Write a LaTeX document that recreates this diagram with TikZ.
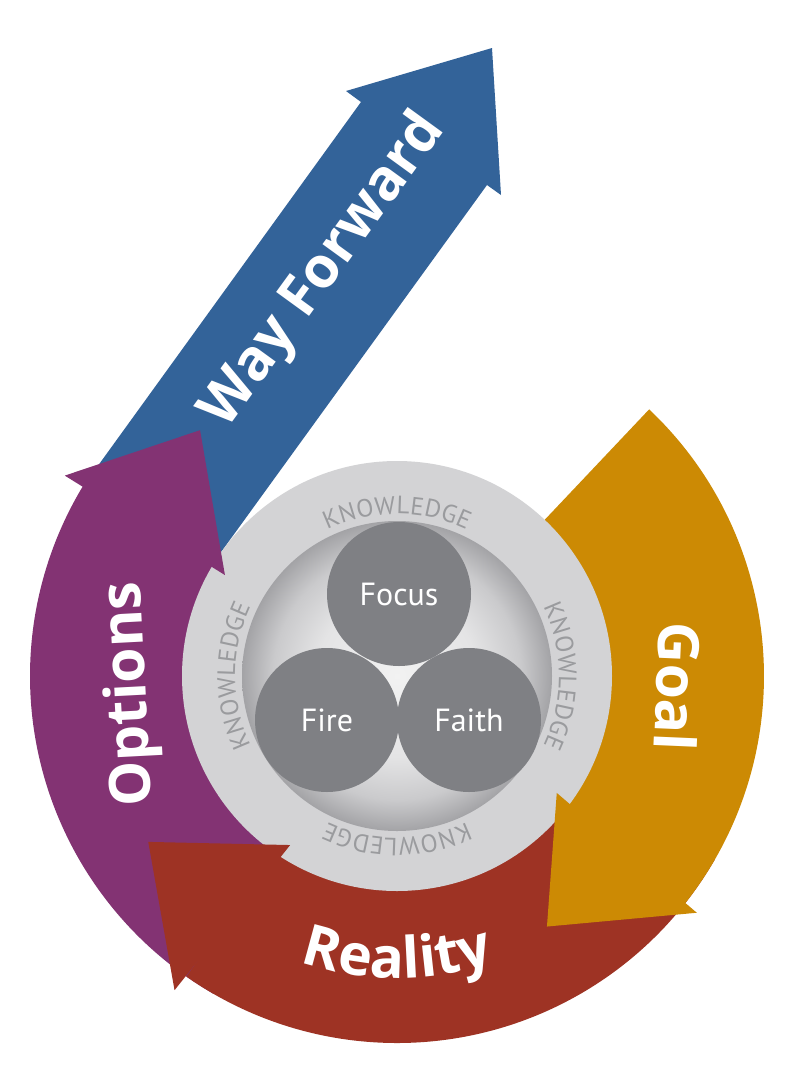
\documentclass[tikz,border=0pt]{standalone}
\usepackage{fontspec}
\setmainfont{PT Sans}
\newfontfamily\labfam{Open Sans}
\usetikzlibrary{decorations.text}
\definecolor{wfblue}{HTML}{336399}
\definecolor{optpurple}{HTML}{833373}
\definecolor{realred}{HTML}{9E3324}
\definecolor{goalorange}{HTML}{CC8A04}
\definecolor{ringgray}{HTML}{D3D3D5}
\definecolor{ballgray}{HTML}{7F8084}
\definecolor{knowgray}{HTML}{9A9B9E}
\definecolor{diskA}{HTML}{F2F2F2}
\definecolor{diskB}{HTML}{E4E4E5}
\definecolor{diskC}{HTML}{CACACC}
\definecolor{diskD}{HTML}{A3A3A6}
\pgfdeclareradialshading{diskshade}{\pgfpoint{0bp}{0bp}}{color(0bp)=(diskA); color(13bp)=(diskB); color(20bp)=(diskC); color(25bp)=(diskD); color(50bp)=(diskD)}
\newcommand\knowfont{\fontsize{25}{25}\selectfont}
\newcommand\labfont{\labfam\bfseries\fontsize{57}{57}\selectfont}
\tikzset{
  ball/.style={circle, fill=ballgray, minimum size=144pt, inner sep=0pt, text=white, font=\fontsize{32}{32}\selectfont},
  biglabel/.style={text=white, font=\labfont, inner sep=0pt},
  knowtext/.style={decorate, decoration={text along path, text={|\knowfont|KNOWLEDGE}, text align=fit to path, text color=knowgray}}
}
\begin{document}
\begin{tikzpicture}[x=1pt,y=1pt]
\useasboundingbox (0,0) rectangle (800,-1085);
\fill[white] (0,0) rectangle (800,-1085);
% Way Forward arrow
\fill[wfblue] (492,-48) -- (501,-195) -- (487,-185) -- (161,-635) -- (92,-474) -- (361,-102) -- (346,-91) -- cycle;
\node[biglabel, rotate=54] (wf) at (324,-271) {Way Forward};
\begin{scope}[shift={(397,-676)}]
  % bands
  \fill[optpurple] (240:367) arc[start angle=240, end angle=148, radius=367] -- (148:200) arc[start angle=148, end angle=240, radius=200] -- cycle;
  \fill[realred] (330:367) arc[start angle=330, end angle=235, radius=367] -- (235:200) arc[start angle=235, end angle=330, radius=200] -- cycle;
  \fill[goalorange] (46.6:367) arc[start angle=46.6, end angle=-38.5, radius=367] -- (-38.5:200) arc[start angle=-38.5, end angle=46.6, radius=200] -- cycle;
  % ring and disk
  \fill[ringgray] (0,0) circle (215);
  \shade[shading=diskshade] (0,0) circle (155);
  % heads
  \fill[optpurple] (148.9:388) -- (128.7:315) -- (149.6:199.5) -- cycle;
  \fill[realred] (234.7:385) -- (213.7:299) -- (237.7:200) -- cycle;
  \fill[goalorange] (-38.3:382) -- (-59.1:292) -- (-36.2:198) -- cycle;
  % balls
  \node[ball] (focus) at (2,82) {Focus};
  \node[ball] (fire) at (-70,-44) {Fire};
  \node[ball] (faith) at (72,-44) {Faith};
  % knowledge ring texts
  \path[knowtext] (115.5:162) arc[start angle=115.5, end angle=64.5, radius=162];
  \path[knowtext] (25.5:162) arc[start angle=25.5, end angle=-25.5, radius=162];
  \path[knowtext] (295.5:162) arc[start angle=295.5, end angle=244.5, radius=162];
  \path[knowtext] (205.5:162) arc[start angle=205.5, end angle=154.5, radius=162];
  % labels
  \node[biglabel, rotate=-92.5] (goal) at (281,-11) {Goal};
  \node[biglabel, rotate=93] (options) at (-266,-18) {Options};
  \path[decorate, decoration={text along path, text={|\labfont|Reality}, text align=center, text color=white}] (230:302) arc[start angle=230, end angle=310, radius=302];
\end{scope}
\end{tikzpicture}
\end{document}
